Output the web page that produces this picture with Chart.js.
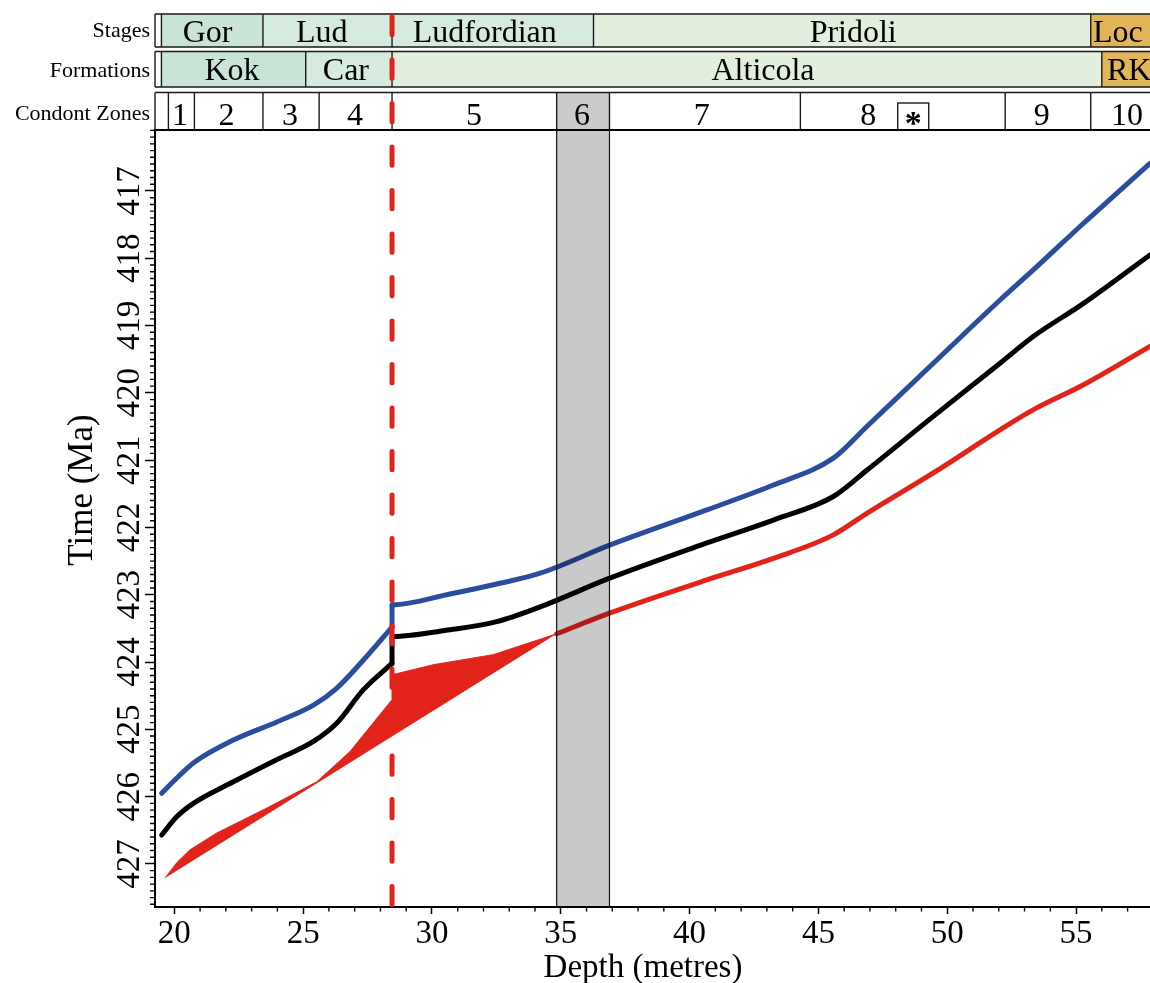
<!DOCTYPE html>
<html>
<head>
<meta charset="utf-8">
<title>Age model: depth vs time</title>
<script src="https://cdn.jsdelivr.net/npm/chart.js@4.4.1/dist/chart.umd.min.js"></script>
<style>
  html, body { margin: 0; padding: 0; background: #ffffff; }
  #wrap { width: 1150px; height: 983px; }
</style>
</head>
<body>
<div id="wrap"><canvas id="chart" width="1150" height="983"></canvas></div>
<script>
// ---- Age model curves (depth in metres, age in Ma) ----
// Younger bound (blue), split at the hiatus
const blueDepthA = [19.51, 20.03, 20.74, 22.29, 23.98, 25.40, 26.30, 27.34, 28.45];
const blueAgeA   = [425.95, 425.75, 425.50, 425.16, 424.89, 424.64, 424.39, 423.97, 423.48];
const blueDepthB = [28.45, 28.45, 30.70, 32.64, 34.20, 36.92, 40.67, 43.25, 45.58, 46.88, 49.46, 52.05, 53.35, 55.29, 57.87];
const blueAgeB   = [423.48, 423.15, 422.99, 422.83, 422.68, 422.26, 421.74, 421.37, 420.97, 420.50, 419.56, 418.62, 418.17, 417.48, 416.59];

// Median model (black)
const blackDepthA = [19.51, 20.09, 20.74, 22.29, 23.98, 25.40, 26.30, 27.34, 28.45];
const blackAgeA   = [426.57, 426.30, 426.10, 425.78, 425.45, 425.18, 424.91, 424.41, 424.02];
const blackDepthB = [28.45, 28.45, 30.70, 32.51, 34.20, 36.92, 40.67, 43.25, 45.58, 46.88, 49.46, 52.05, 53.35, 55.29, 57.87];
const blackAgeB   = [424.02, 423.62, 423.52, 423.40, 423.18, 422.75, 422.23, 421.89, 421.54, 421.15, 420.35, 419.56, 419.16, 418.67, 417.95];

// Older bound (red) above the zone-6 tie point
const redDepth = [34.84, 36.92, 40.67, 43.25, 45.58, 46.88, 49.46, 52.05, 53.35, 55.29, 57.87];
const redAge   = [423.58, 423.27, 422.78, 422.46, 422.11, 421.79, 421.19, 420.55, 420.25, 419.88, 419.31];

// Older-bound uncertainty envelope below the tie point (upper edge; closes along a straight lower edge)
const bandDepth = [19.64, 20.12, 20.61, 21.65, 23.59, 25.53, 26.82, 28.45, 28.45, 30.05, 32.38, 34.84];
const bandAge   = [427.21, 426.97, 426.79, 426.54, 426.17, 425.78, 425.33, 424.56, 424.19, 424.04, 423.89, 423.58];

// ---- Stratigraphic framework ----
const hiatusDepth = 28.45;
const tieZone = [34.84, 36.89];

const stageNames  = ['Gor', 'Lud', 'Ludfordian', 'Pridoli', 'Loc'];
const stageBounds = [19.5, 23.44, 28.45, 36.27, 55.57, 58.5];
const stageLabelAt = [21.29, 25.72, 32.05, 46.35, 56.62];

const formationNames  = ['Kok', 'Car', 'Alticola', 'RK'];
const formationBounds = [19.5, 25.10, 28.45, 56.00, 58.5];
const formationLabelAt = [22.24, 26.66, 42.85, 57.06];

const zoneNames  = ['1', '2', '3', '4', '5', '6', '7', '8', '9', '10'];
const zoneBounds = [19.77, 20.78, 23.44, 25.62, 28.45, 34.84, 36.89, 44.30, 52.25, 55.57, 58.5];
const zoneLabelAt = [20.22, 22.03, 24.49, 27.01, 31.63, 35.82, 40.47, 46.93, 53.67, 56.98];
const zoneMarkerAt = 48.68;   // boxed asterisk inside zone 8

// ---- Axis ranges ----
const depthMin = 19.25, depthMax = 57.87;
const ageTop = 416.094, ageBottom = 427.64;

// ---- Styles ----
const SERIF = '"Liberation Serif", "Times New Roman", Times, serif';
const RED = '#e2231a', BLUE = '#2b4d9e', BLACK = '#000000';
const GREEN_DARK = '#c7e4d7', GREEN_MID = '#d6ebdf', GREEN_LIGHT = '#e2efdc', ORANGE = '#e3b55b';
const stageFills = [GREEN_DARK, GREEN_MID, GREEN_MID, GREEN_LIGHT, ORANGE];
const formationFills = [GREEN_DARK, GREEN_MID, GREEN_LIGHT, ORANGE];
const zoneFills = ['#fff', '#fff', '#fff', '#fff', '#fff', '#cbcbcb', '#fff', '#fff', '#fff', '#fff'];

const pts = (xs, ys) => xs.map((x, i) => ({ x, y: ys[i] }));
const curve = (color, xs, ys) => ({
  data: pts(xs, ys),
  borderColor: color,
  backgroundColor: color,
  borderWidth: 5,
  pointRadius: 0,
  fill: false,
  cubicInterpolationMode: 'monotone',
  borderCapStyle: 'round',
  borderJoinStyle: 'round'
});

// Header rows, minor ticks, tie zone, hiatus line and axis titles
const framework = {
  id: 'framework',
  afterDatasetsDraw(chart) {
    const ctx = chart.ctx, xs = chart.scales.x, area = chart.chartArea;
    const x0 = xs.getPixelForValue(tieZone[0]), x1 = xs.getPixelForValue(tieZone[1]);
    ctx.save();
    ctx.fillStyle = 'rgba(0,0,0,0.21)';
    ctx.fillRect(x0, area.top, x1 - x0, area.bottom - area.top);
    ctx.strokeStyle = '#111';
    ctx.lineWidth = 1.2;
    ctx.beginPath();
    ctx.moveTo(x0, area.top); ctx.lineTo(x0, area.bottom);
    ctx.moveTo(x1, area.top); ctx.lineTo(x1, area.bottom);
    ctx.stroke();
    ctx.restore();
  },
  afterDraw(chart) {
    const ctx = chart.ctx, xs = chart.scales.x, ys = chart.scales.y, area = chart.chartArea;
    const px = v => xs.getPixelForValue(v);
    const L = area.left, R = area.right;

    function row(y0, y1, bounds, names, labelAt, fills, baseline, title, titleBase) {
      ctx.save();
      ctx.fillStyle = '#fff';
      ctx.fillRect(L, y0, R - L, y1 - y0);
      for (let i = 0; i < names.length; i++) {
        const a = Math.max(px(bounds[i]), L), b = Math.min(px(bounds[i + 1]), R + 2);
        ctx.fillStyle = fills[i];
        ctx.fillRect(a, y0, b - a, y1 - y0);
      }
      ctx.strokeStyle = '#1a1a1a';
      ctx.lineWidth = 1.4;
      ctx.beginPath();
      ctx.moveTo(L, y0); ctx.lineTo(R + 2, y0);
      ctx.moveTo(L, y1); ctx.lineTo(R + 2, y1);
      ctx.moveTo(L, y0); ctx.lineTo(L, y1);
      for (let i = 0; i < bounds.length; i++) {
        const x = px(bounds[i]);
        if (x > L && x < R) { ctx.moveTo(x, y0); ctx.lineTo(x, y1); }
      }
      ctx.stroke();
      ctx.fillStyle = '#000';
      ctx.font = '32px ' + SERIF;
      ctx.textAlign = 'center';
      ctx.textBaseline = 'alphabetic';
      for (let i = 0; i < names.length; i++) ctx.fillText(names[i], px(labelAt[i]), baseline);
      ctx.font = '22px ' + SERIF;
      ctx.textAlign = 'right';
      ctx.fillText(title, L - 5, titleBase);
      ctx.restore();
    }

    row(14, 47, stageBounds, stageNames, stageLabelAt, stageFills, 41.7, 'Stages', 37.3);
    row(51.5, 87, formationBounds, formationNames, formationLabelAt, formationFills, 80, 'Formations', 77.3);
    row(92.5, area.top, zoneBounds, zoneNames, zoneLabelAt, zoneFills, 125, 'Condont Zones', 120);

    // boxed asterisk in zone 8
    ctx.save();
    const mx = px(zoneMarkerAt);
    ctx.fillStyle = '#fff';
    ctx.fillRect(mx - 15.5, 103, 31, area.top - 103);
    ctx.strokeStyle = '#1a1a1a';
    ctx.lineWidth = 1.4;
    ctx.strokeRect(mx - 15.5, 103, 31, area.top - 103);
    ctx.fillStyle = '#000';
    ctx.font = 'bold 34px ' + SERIF;
    ctx.textAlign = 'center';
    ctx.textBaseline = 'alphabetic';
    const m = ctx.measureText('*');
    const midOff = (m.actualBoundingBoxAscent - m.actualBoundingBoxDescent) / 2;
    ctx.fillText('*', mx, 118 + midOff);
    ctx.restore();

    // top frame of the plot
    ctx.save();
    ctx.strokeStyle = '#000';
    ctx.lineWidth = 2;
    ctx.beginPath();
    ctx.moveTo(L - 1, area.top); ctx.lineTo(R + 2, area.top);
    ctx.stroke();

    // minor ticks
    ctx.lineWidth = 1.4;
    ctx.beginPath();
    for (let k = Math.ceil(depthMin); k <= Math.floor(depthMax); k++) {
      if (k % 5 === 0) continue;
      const x = px(k);
      ctx.moveTo(x, area.bottom); ctx.lineTo(x, area.bottom + 4.5);
    }
    for (let k = Math.ceil(ageTop * 10); k <= Math.floor(ageBottom * 10); k++) {
      if (k % 10 === 0) continue;
      const y = ys.getPixelForValue(k / 10);
      ctx.moveTo(L - 5, y); ctx.lineTo(L, y);
    }
    ctx.stroke();
    ctx.restore();

    // hiatus
    ctx.save();
    const hx = px(hiatusDepth);
    ctx.strokeStyle = RED;
    ctx.lineWidth = 5;
    ctx.lineCap = 'round';
    ctx.setLineDash([18.3, 25.2]);
    ctx.beginPath();
    ctx.moveTo(hx, 16.5); ctx.lineTo(hx, area.bottom - 2.5);
    ctx.stroke();
    ctx.restore();

    // axis titles
    ctx.save();
    ctx.fillStyle = '#000';
    ctx.font = '33px ' + SERIF;
    ctx.textAlign = 'center';
    ctx.textBaseline = 'alphabetic';
    ctx.fillText('Depth (metres)', 643, 977);
    ctx.translate(92, 490);
    ctx.rotate(-Math.PI / 2);
    ctx.font = '35px ' + SERIF;
    ctx.fillText('Time (Ma)', 0, 0);
    ctx.restore();
  }
};

new Chart(document.getElementById('chart'), {
  type: 'line',
  data: {
    datasets: [
      {
        data: pts(bandDepth, bandAge),
        borderColor: RED,
        backgroundColor: RED,
        borderWidth: 1,
        pointRadius: 0,
        tension: 0,
        fill: 'shape'
      },
      curve(RED, redDepth, redAge),
      curve(BLACK, blackDepthA, blackAgeA),
      curve(BLACK, blackDepthB, blackAgeB),
      curve(BLUE, blueDepthA, blueAgeA),
      curve(BLUE, blueDepthB, blueAgeB)
    ]
  },
  options: {
    responsive: false,
    animation: false,
    devicePixelRatio: 1,
    layout: { padding: { top: 130, left: 0, right: 0, bottom: 0 } },
    plugins: { legend: { display: false }, tooltip: { enabled: false } },
    scales: {
      x: {
        type: 'linear',
        min: depthMin,
        max: depthMax,
        afterFit: s => { s.height = 76; },
        border: { display: true, color: '#000', width: 2 },
        grid: { drawOnChartArea: false, drawTicks: true, tickLength: 7, tickWidth: 1.5, tickColor: '#000' },
        ticks: {
          stepSize: 5, includeBounds: false, autoSkip: false, maxRotation: 0, minRotation: 0,
          color: '#000', padding: 1, font: { family: SERIF, size: 33 }
        }
      },
      y: {
        type: 'linear',
        reverse: true,
        min: ageTop,
        max: ageBottom,
        afterFit: s => { s.width = 155; },
        border: { display: true, color: '#000', width: 2 },
        grid: { drawOnChartArea: false, drawTicks: true, tickLength: 10, tickWidth: 1.5, tickColor: '#000' },
        ticks: {
          stepSize: 1, includeBounds: false, autoSkip: false, minRotation: 90, maxRotation: 90,
          crossAlign: 'center', padding: -10,
          color: '#000', font: { family: SERIF, size: 33 }
        }
      }
    }
  },
  plugins: [framework]
});
</script>
</body>
</html>
